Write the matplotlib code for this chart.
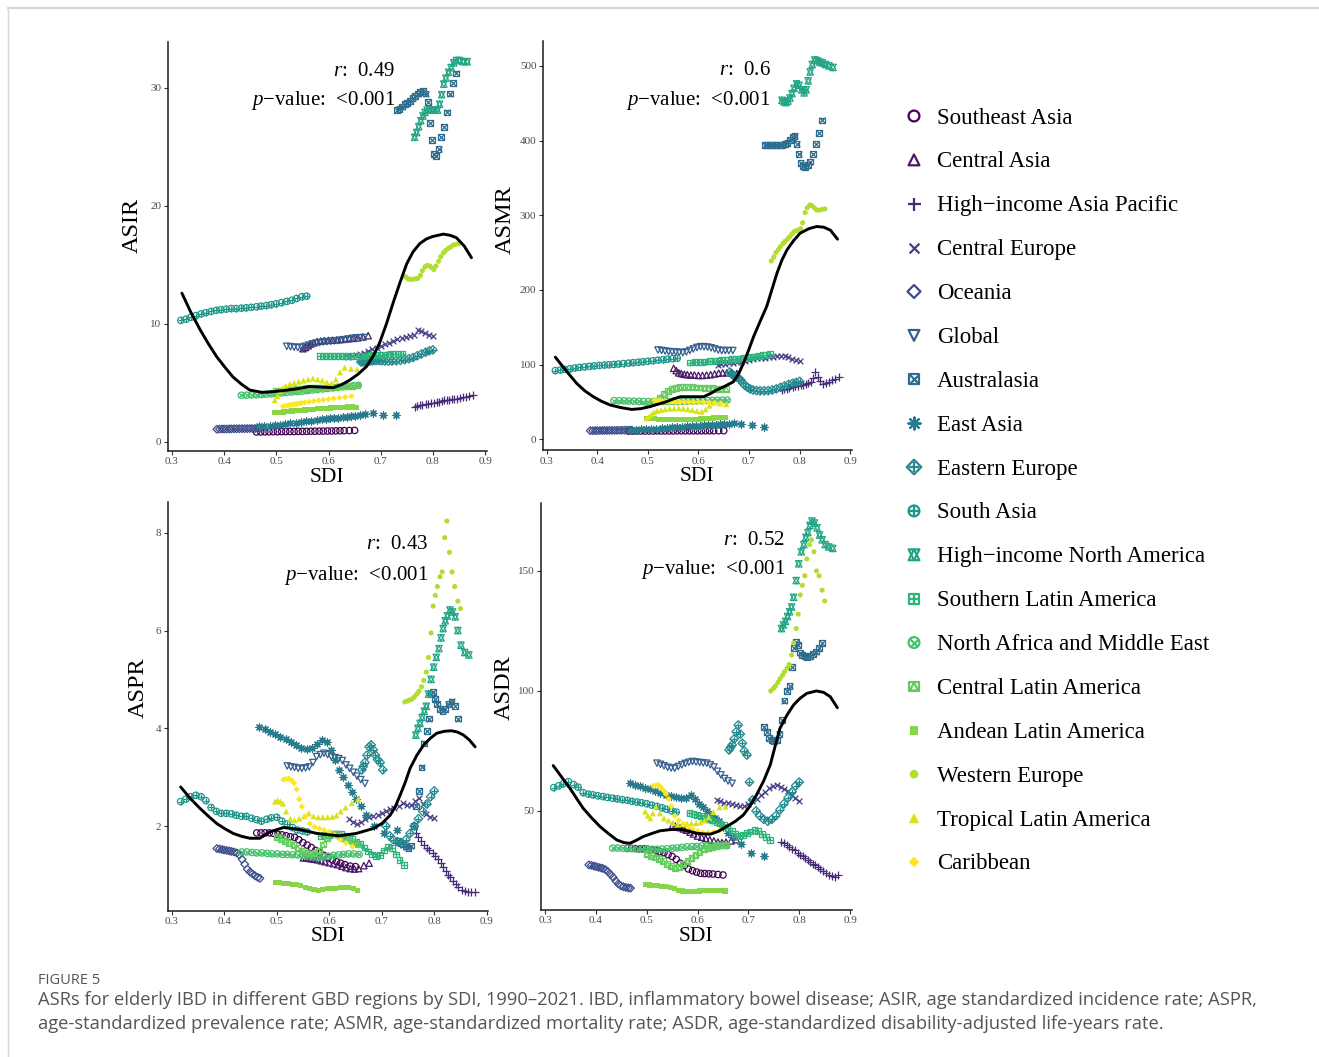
import numpy as np
import matplotlib
matplotlib.use("Agg")
import matplotlib.pyplot as plt

plt.rcParams['font.family'] = ['Liberation Serif', 'DejaVu Serif']
plt.rcParams['mathtext.fontset'] = 'custom'
plt.rcParams['mathtext.rm'] = 'Liberation Serif'
plt.rcParams['mathtext.it'] = 'Liberation Serif:italic'

# ---------------- data ----------------
regions = ["Southeast Asia", "Central Asia", "High\u2212income Asia Pacific", "Central Europe",
           "Oceania", "Global", "Australasia", "East Asia", "Eastern Europe", "South Asia",
           "High\u2212income North America", "Southern Latin America",
           "North Africa and Middle East", "Central Latin America", "Andean Latin America",
           "Western Europe", "Tropical Latin America", "Caribbean"]

SDI_SEA = [0.462, 0.47, 0.478, 0.486, 0.494, 0.502, 0.51, 0.518, 0.526, 0.534, 0.542, 0.55, 0.558, 0.566, 0.574, 0.582, 0.59, 0.598, 0.606, 0.614, 0.622, 0.63, 0.64, 0.65]
ASIR_SEA = [0.85, 0.85, 0.86, 0.86, 0.87, 0.87, 0.88, 0.88, 0.89, 0.89, 0.9, 0.9, 0.9, 0.91, 0.91, 0.92, 0.92, 0.93, 0.93, 0.94, 0.95, 0.96, 0.97, 0.98]
ASMR_SEA = [11.0, 11.0, 11.0, 11.1, 11.1, 11.1, 11.1, 11.2, 11.2, 11.2, 11.2, 11.2, 11.3, 11.3, 11.3, 11.3, 11.3, 11.3, 11.4, 11.4, 11.4, 11.4, 11.5, 11.5]
ASPR_SEA = [1.86, 1.86, 1.86, 1.86, 1.85, 1.83, 1.82, 1.80, 1.78, 1.77, 1.72, 1.66, 1.61, 1.56, 1.50, 1.45, 1.40, 1.36, 1.31, 1.27, 1.24, 1.21, 1.18, 1.17]
ASDR_SEA = [34.4, 34.4, 34.3, 34.2, 34.2, 34.0, 33.7, 33.4, 33.0, 32.6, 31.8, 31.0, 29.8, 28.2, 27.2, 25.8, 25.1, 24.5, 24.0, 23.9, 23.8, 23.7, 23.5, 23.3]

SDI_CA = [0.551, 0.556, 0.561, 0.566, 0.572, 0.578, 0.585, 0.592, 0.6, 0.608, 0.616, 0.624, 0.632, 0.64, 0.648, 0.656, 0.666, 0.676]
ASIR_CA = [7.9, 8.0, 8.15, 8.3, 8.4, 8.5, 8.55, 8.58, 8.6, 8.62, 8.65, 8.68, 8.72, 8.75, 8.78, 8.82, 8.9, 9.0]
ASMR_CA = [95, 92, 89, 88, 87, 86.5, 86, 86, 85.5, 85.5, 86, 86.5, 87.5, 88.5, 89, 89, 89, 88]
ASPR_CA = [1.35, 1.35, 1.34, 1.33, 1.32, 1.31, 1.29, 1.27, 1.25, 1.23, 1.21, 1.18, 1.15, 1.13, 1.12, 1.13, 1.19, 1.24]
ASDR_CA = [44, 43.7, 43.3, 43, 42.5, 42, 41.2, 40.4, 39.5, 39, 38.5, 38, 37.5, 37, 36.8, 37, 37.5, 38]

SDI_HIAP = [0.765, 0.77, 0.775, 0.78, 0.786, 0.791, 0.797, 0.802, 0.807, 0.812, 0.817, 0.822, 0.827, 0.831, 0.836, 0.841, 0.846, 0.852, 0.858, 0.864, 0.87, 0.877]
ASIR_HIAP = [3.0, 3.05, 3.1, 3.15, 3.2, 3.25, 3.3, 3.34, 3.38, 3.42, 3.47, 3.52, 3.56, 3.58, 3.62, 3.66, 3.68, 3.72, 3.78, 3.85, 3.92, 4.0]
ASMR_HIAP = [66, 67, 68, 69, 70, 71, 72, 72.5, 73, 74, 75.5, 77, 82, 90, 84, 78, 74, 75, 77, 79, 81, 84]
ASPR_HIAP = [1.85, 1.77, 1.7, 1.62, 1.56, 1.5, 1.44, 1.38, 1.32, 1.24, 1.16, 1.08, 1.0, 0.95, 0.88, 0.82, 0.76, 0.7, 0.67, 0.65, 0.65, 0.66]
ASDR_HIAP = [37.2, 36.5, 35.7, 34.8, 34, 33.5, 32.5, 31.7, 31, 30.3, 29.5, 28.8, 28, 27.4, 26.6, 25.8, 25, 24, 23.2, 22.7, 22.6, 23.1]

SDI_CE = [0.638, 0.645, 0.652, 0.66, 0.668, 0.676, 0.684, 0.692, 0.7, 0.708, 0.716, 0.724, 0.732, 0.74, 0.748, 0.756, 0.764, 0.771, 0.778, 0.785, 0.792, 0.8]
ASIR_CE = [7.2, 7.28, 7.36, 7.46, 7.56, 7.7, 7.85, 8.0, 8.15, 8.3, 8.42, 8.58, 8.68, 8.78, 8.85, 8.95, 9.1, 9.45, 9.4, 9.2, 9.08, 9.0]
ASMR_CE = [100, 100.5, 101, 101.5, 102, 103, 104, 105, 106.5, 107.5, 108.5, 109, 109.5, 110, 110.5, 111, 111.2, 111.6, 110, 108, 106, 105]
ASPR_CE = [2.14, 2.08, 2.05, 2.09, 2.14, 2.19, 2.2, 2.22, 2.26, 2.3, 2.34, 2.36, 2.42, 2.48, 2.44, 2.43, 2.52, 2.57, 2.46, 2.25, 2.19, 2.16]
ASDR_CE = [54.6, 54, 53.5, 53.2, 52.9, 52.5, 52.2, 52.1, 53, 54, 55, 56.5, 58, 59.4, 60.2, 60.8, 60, 59.2, 58.2, 56.7, 55.5, 54.2]

SDI_OC = [0.386, 0.391, 0.396, 0.4, 0.405, 0.41, 0.414, 0.419, 0.424, 0.429, 0.434, 0.439, 0.444, 0.449, 0.454, 0.459, 0.464, 0.468]
ASIR_OC = [1.08, 1.09, 1.1, 1.1, 1.1, 1.11, 1.11, 1.12, 1.12, 1.12, 1.13, 1.13, 1.13, 1.14, 1.14, 1.14, 1.15, 1.15]
ASMR_OC = [11.5, 11.5, 11.6, 11.6, 11.7, 11.7, 11.8, 11.8, 11.9, 11.9, 12.0, 12.0, 12.1, 12.1, 12.2, 12.2, 12.3, 12.3]
ASPR_OC = [1.54, 1.53, 1.52, 1.51, 1.5, 1.49, 1.48, 1.47, 1.45, 1.41, 1.32, 1.22, 1.12, 1.06, 1.02, 0.98, 0.95, 0.93]
ASDR_OC = [27.5, 27.3, 27, 26.8, 26.5, 26.2, 26, 25.5, 24.6, 23.5, 22.3, 20.8, 19.6, 18.8, 18.4, 18.1, 17.9, 17.8]

SDI_GL = [0.52, 0.527, 0.534, 0.541, 0.548, 0.555, 0.562, 0.569, 0.576, 0.583, 0.59, 0.597, 0.604, 0.611, 0.618, 0.625, 0.632, 0.639, 0.646, 0.653, 0.66, 0.668]
ASIR_GL = [8.1, 8.07, 8.03, 8.0, 8.02, 8.1, 8.2, 8.3, 8.37, 8.42, 8.47, 8.5, 8.53, 8.56, 8.58, 8.62, 8.66, 8.72, 8.78, 8.81, 8.83, 8.84]
ASMR_GL = [119.6, 119, 118.2, 117.5, 117.2, 117, 116.5, 116, 117, 119, 121, 123, 124, 124, 123.5, 122.5, 121, 119.5, 118.8, 118.8, 118.8, 118.8]
ASPR_GL = [3.23, 3.21, 3.2, 3.18, 3.18, 3.19, 3.21, 3.3, 3.42, 3.46, 3.49, 3.46, 3.42, 3.4, 3.38, 3.34, 3.25, 3.18, 3.1, 3.02, 2.95, 2.87]
ASDR_GL = [69.9, 69.4, 68.8, 68.2, 67.9, 67.8, 68.5, 69.2, 69.8, 70.3, 70.6, 70.4, 70.2, 70, 69.9, 69.2, 68.3, 66.5, 65, 63.5, 62.5, 61.5]

SDI_AU = [0.731, 0.736, 0.741, 0.746, 0.751, 0.756, 0.761, 0.766, 0.771, 0.776, 0.781, 0.786, 0.79, 0.794, 0.798, 0.802, 0.806, 0.811, 0.816, 0.821, 0.827, 0.833, 0.839, 0.845]
ASIR_AU = [28.1, 28.2, 28.4, 28.6, 28.7, 28.9, 29.1, 29.3, 29.5, 29.65, 29.7, 29.5, 28.8, 27.0, 25.6, 24.4, 24.2, 24.8, 25.8, 26.7, 27.9, 29.5, 30.4, 31.2]
ASMR_AU = [394, 394, 394, 394, 394, 394, 394, 394, 395, 397, 401, 405, 406, 395, 382, 370, 366, 365, 367, 372, 382, 395, 410, 427]
ASPR_AU = [1.7, 1.66, 1.62, 1.58, 1.55, 1.6, 2.0, 2.4, 2.72, 3.2, 3.69, 3.95, 4.2, 4.7, 4.75, 4.6, 4.5, 4.4, 4.35, 4.4, 4.5, 4.55, 4.45, 4.2]
ASDR_AU = [85, 83, 80.5, 79.5, 79, 79.5, 82, 88, 96, 100, 102, 110, 117.8, 120.6, 119, 116, 115, 114.5, 114.3, 114.5, 115.5, 116.4, 118, 119.9]

SDI_EA = [0.467, 0.477, 0.487, 0.497, 0.507, 0.517, 0.527, 0.537, 0.547, 0.557, 0.567, 0.577, 0.587, 0.595, 0.603, 0.611, 0.619, 0.627, 0.635, 0.643, 0.651, 0.66, 0.67, 0.685, 0.705, 0.73]
ASIR_EA = [1.33, 1.35, 1.38, 1.41, 1.46, 1.52, 1.57, 1.63, 1.7, 1.76, 1.81, 1.87, 1.93, 1.97, 2.0, 2.03, 2.07, 2.11, 2.15, 2.19, 2.22, 2.27, 2.4, 2.42, 2.3, 2.26]
ASMR_EA = [12.5, 12.8, 13.1, 13.5, 13.9, 14.3, 14.8, 15.4, 15.9, 16.4, 16.9, 17.3, 17.7, 18, 18.2, 18.6, 18.9, 19.2, 19.5, 19.8, 20.2, 20.8, 21.4, 21, 19.5, 17]
ASPR_EA = [4.02, 3.98, 3.93, 3.89, 3.83, 3.78, 3.72, 3.65, 3.6, 3.58, 3.6, 3.67, 3.76, 3.72, 3.55, 3.35, 3.15, 3.0, 2.85, 2.7, 2.56, 2.4, 2.22, 2.0, 1.85, 1.92]
ASDR_EA = [61.5, 60.8, 60.2, 59.7, 59, 58.3, 57.6, 56.8, 56.2, 55.6, 55.3, 55.5, 56.5, 55, 53, 51.8, 50, 48.5, 47.2, 46, 43.5, 41, 39, 36, 32.5, 31.4]

SDI_EE = [0.662, 0.665, 0.668, 0.672, 0.676, 0.68, 0.684, 0.688, 0.692, 0.697, 0.702, 0.708, 0.715, 0.722, 0.73, 0.738, 0.746, 0.754, 0.762, 0.77, 0.778, 0.786, 0.793, 0.8]
ASIR_EE = [6.78, 6.79, 6.8, 6.82, 6.84, 6.86, 6.88, 6.9, 6.91, 6.9, 6.88, 6.86, 6.85, 6.86, 6.88, 6.92, 6.98, 7.05, 7.15, 7.3, 7.45, 7.6, 7.72, 7.8]
ASMR_EE = [90, 88, 86, 84.5, 83, 81.5, 79, 75, 72, 69.5, 67.5, 66, 65.2, 65, 65, 65.2, 66, 67.5, 69.5, 71.5, 73.5, 75, 76.2, 77.5]
ASPR_EE = [3.15, 3.22, 3.3, 3.45, 3.62, 3.66, 3.56, 3.45, 3.36, 3.3, 3.15, 2.0, 1.8, 1.72, 1.68, 1.66, 1.72, 1.85, 2.0, 2.15, 2.3, 2.45, 2.6, 2.72]
ASDR_EE = [75.4, 76.5, 77.5, 80, 83, 85.8, 82, 78.2, 75, 73.3, 62, 54.6, 50, 48, 46.5, 45.7, 46.5, 48, 50.5, 53, 55.5, 58, 60.5, 62]

SDI_SA = [0.317, 0.327, 0.336, 0.346, 0.356, 0.365, 0.375, 0.385, 0.394, 0.404, 0.414, 0.423, 0.433, 0.442, 0.452, 0.462, 0.471, 0.481, 0.49, 0.5, 0.51, 0.52, 0.53, 0.539, 0.549, 0.558]
ASIR_SA = [10.3, 10.4, 10.55, 10.7, 10.85, 10.95, 11.05, 11.15, 11.2, 11.25, 11.3, 11.3, 11.33, 11.36, 11.4, 11.45, 11.5, 11.55, 11.62, 11.7, 11.8, 11.9, 12.0, 12.15, 12.3, 12.35]
ASMR_SA = [92, 92.8, 93.6, 94.5, 95.5, 96.3, 97, 97.7, 98.3, 98.9, 99.4, 99.8, 100.2, 100.8, 101.4, 102, 102.6, 103.2, 103.8, 104.5, 105.2, 106, 106.6, 107.3, 108, 108.5]
ASPR_SA = [2.5, 2.55, 2.6, 2.63, 2.6, 2.52, 2.38, 2.3, 2.26, 2.26, 2.25, 2.22, 2.2, 2.2, 2.16, 2.13, 2.1, 2.14, 2.17, 2.18, 2.1, 2.04, 1.97, 1.92, 1.9, 1.88]
ASDR_SA = [59.7, 60.5, 61.3, 62.2, 61, 59.9, 57.6, 57, 56.7, 56.3, 56, 55.6, 55.3, 55, 54.7, 54.4, 54, 53.7, 53.4, 53, 52.4, 51.9, 51.3, 50.7, 50, 49.5]

SDI_HINA = [0.765, 0.769, 0.773, 0.777, 0.781, 0.785, 0.789, 0.794, 0.799, 0.804, 0.809, 0.813, 0.817, 0.821, 0.825, 0.83, 0.835, 0.84, 0.845, 0.851, 0.858, 0.866]
ASIR_HINA = [25.8, 26.2, 26.7, 27.2, 27.6, 27.9, 28.1, 28.1, 28.1, 28.1, 28.1, 28.6, 29.4, 30.3, 30.8, 31.3, 31.7, 32.1, 32.3, 32.3, 32.2, 32.2]
ASMR_HINA = [454, 452, 451, 453, 457, 463, 470, 476, 474, 468, 464, 468, 480, 492, 502, 508, 507, 505, 504, 502, 500, 498]
ASPR_HINA = [3.86, 4.0, 4.1, 4.22, 4.35, 4.45, 4.7, 5.0, 5.25, 5.45, 5.63, 5.85, 6.04, 6.2, 6.3, 6.42, 6.38, 6.28, 6.0, 5.7, 5.55, 5.5]
ASDR_HINA = [126, 127.5, 129, 131, 133, 135, 139, 146, 153, 158, 161, 164, 166, 169, 170.8, 170, 168, 165, 163, 161, 160, 159.4]

SDI_SLA = [0.584, 0.592, 0.599, 0.607, 0.614, 0.622, 0.629, 0.637, 0.644, 0.652, 0.659, 0.667, 0.674, 0.682, 0.689, 0.697, 0.704, 0.712, 0.719, 0.727, 0.734, 0.742]
ASIR_SLA = [7.26, 7.26, 7.27, 7.27, 7.27, 7.28, 7.28, 7.28, 7.29, 7.29, 7.3, 7.31, 7.32, 7.34, 7.35, 7.37, 7.39, 7.41, 7.43, 7.45, 7.47, 7.49]
ASMR_SLA = [102.7, 103.1, 103.5, 103.8, 104.1, 104.5, 104.9, 105.4, 105.8, 106.2, 106.6, 107.1, 107.6, 108.2, 108.8, 109.5, 110.2, 111, 111.6, 112.4, 113.2, 114]
ASPR_SLA = [1.8, 1.81, 1.82, 1.84, 1.85, 1.83, 1.8, 1.77, 1.73, 1.68, 1.63, 1.56, 1.48, 1.42, 1.38, 1.4, 1.5, 1.58, 1.55, 1.42, 1.3, 1.2]
ASDR_SLA = [49, 48.8, 48.4, 47.8, 47.1, 46.5, 46, 45.4, 44.8, 44, 43, 41.8, 40.5, 39.5, 40, 40.8, 41.4, 42, 41.5, 40.5, 39.2, 38]

SDI_NAME = [0.433, 0.443, 0.453, 0.462, 0.472, 0.482, 0.491, 0.501, 0.511, 0.52, 0.53, 0.54, 0.55, 0.559, 0.569, 0.579, 0.589, 0.598, 0.608, 0.618, 0.627, 0.637, 0.647, 0.657]
ASIR_NAME = [3.95, 3.96, 3.98, 4.0, 4.02, 4.05, 4.08, 4.12, 4.16, 4.2, 4.23, 4.27, 4.3, 4.35, 4.4, 4.45, 4.49, 4.53, 4.58, 4.63, 4.68, 4.72, 4.76, 4.8]
ASMR_NAME = [51.8, 51.6, 51.4, 51.1, 50.9, 50.7, 50.5, 50.4, 50.4, 50.4, 50.5, 50.5, 50.6, 50.7, 50.9, 51, 51.2, 51.4, 51.6, 51.9, 52.1, 52.3, 52.4, 52.5]
ASPR_NAME = [1.47, 1.47, 1.46, 1.45, 1.45, 1.44, 1.43, 1.43, 1.42, 1.42, 1.41, 1.41, 1.4, 1.38, 1.37, 1.36, 1.37, 1.38, 1.4, 1.41, 1.42, 1.43, 1.43, 1.42]
ASDR_NAME = [34.5, 34.5, 34.4, 34.3, 34.3, 34.2, 34.1, 34, 34, 34, 34.1, 34.2, 34.4, 34.6, 34.8, 35, 35.1, 35.2, 35.4, 35.5, 35.5, 35.5, 35.5, 35.5]

SDI_CLA = [0.5, 0.508, 0.516, 0.524, 0.532, 0.54, 0.548, 0.556, 0.564, 0.572, 0.58, 0.588, 0.596, 0.604, 0.612, 0.62, 0.628, 0.636, 0.645, 0.655]
ASIR_CLA = [4.3, 4.33, 4.37, 4.4, 4.44, 4.47, 4.5, 4.54, 4.57, 4.6, 4.6, 4.61, 4.62, 4.64, 4.66, 4.69, 4.71, 4.73, 4.75, 4.78]
ASMR_CLA = [48, 49.5, 52, 56, 61, 65, 67.5, 69, 69.8, 70, 70, 69.8, 69.5, 69.2, 68.8, 68.5, 68.2, 67.8, 67.4, 67]
ASPR_CLA = [1.78, 1.74, 1.7, 1.66, 1.61, 1.55, 1.5, 1.46, 1.44, 1.45, 1.5, 1.62, 1.76, 1.85, 1.84, 1.8, 1.76, 1.72, 1.68, 1.62]
ASDR_CLA = [32, 31.3, 30.6, 29.8, 29, 28, 27, 26.2, 26.5, 27.8, 29, 30.3, 31.6, 33, 34, 34.6, 35, 35.3, 35.6, 36]

SDI_ALA = [0.497, 0.505, 0.513, 0.522, 0.53, 0.538, 0.546, 0.555, 0.563, 0.571, 0.579, 0.588, 0.596, 0.604, 0.612, 0.621, 0.629, 0.637, 0.646, 0.654]
ASIR_ALA = [2.46, 2.5, 2.54, 2.58, 2.62, 2.65, 2.68, 2.71, 2.74, 2.77, 2.8, 2.83, 2.86, 2.88, 2.91, 2.93, 2.95, 2.96, 2.96, 2.91]
ASMR_ALA = [28, 27.7, 27.3, 27, 26.7, 26.4, 26.1, 26, 26, 26.2, 26.4, 26.6, 26.9, 27.2, 27.6, 28, 28.5, 28.9, 29.2, 29.5]
ASPR_ALA = [0.84, 0.84, 0.83, 0.82, 0.81, 0.8, 0.78, 0.75, 0.72, 0.7, 0.69, 0.7, 0.72, 0.73, 0.73, 0.74, 0.75, 0.74, 0.72, 0.69]
ASDR_ALA = [19.2, 19.1, 18.9, 18.8, 18.6, 18.4, 18.1, 17.5, 17, 16.6, 16.4, 16.4, 16.5, 16.6, 16.7, 16.7, 16.8, 16.8, 16.7, 16.6]

SDI_WE = [0.744, 0.749, 0.753, 0.758, 0.762, 0.767, 0.771, 0.776, 0.78, 0.785, 0.789, 0.794, 0.798, 0.802, 0.806, 0.811, 0.815, 0.82, 0.824, 0.829, 0.834, 0.839, 0.845, 0.85]
ASIR_WE = [14.04, 13.95, 13.8, 13.76, 13.78, 13.82, 13.84, 14.1, 14.5, 14.83, 14.95, 14.9, 14.75, 14.6, 14.9, 15.3, 15.68, 16.0, 16.2, 16.38, 16.5, 16.67, 16.75, 16.8]
ASMR_WE = [238.8, 244, 250, 254, 258, 262, 265, 268, 271, 275, 278, 279.5, 280, 282, 290, 303.6, 310, 313.8, 313, 310, 307, 307, 308, 308.5]
ASPR_WE = [4.54, 4.56, 4.58, 4.6, 4.64, 4.7, 4.76, 4.85, 4.98, 5.15, 5.45, 5.95, 6.5, 6.72, 6.9, 7.1, 7.2, 7.9, 8.24, 7.6, 7.2, 6.9, 6.6, 6.45]
ASDR_WE = [100, 101, 102, 103.5, 105, 106.5, 108, 109.5, 111, 115, 120, 126, 132, 140, 144, 148, 155, 161, 163, 158, 150, 148, 142, 137.5]

SDI_TLA = [0.497, 0.502, 0.507, 0.512, 0.518, 0.526, 0.534, 0.543, 0.552, 0.561, 0.57, 0.579, 0.588, 0.597, 0.606, 0.614, 0.622, 0.631, 0.643, 0.655]
ASIR_TLA = [3.53, 3.9, 4.3, 4.55, 4.75, 4.9, 5.0, 5.1, 5.2, 5.3, 5.37, 5.3, 5.2, 5.05, 4.95, 5.3, 5.9, 6.3, 6.2, 6.15]
ASMR_TLA = [28, 30, 33, 36, 38, 39.5, 40.3, 41, 41.3, 41.5, 41.2, 40.3, 39.3, 38, 37, 40, 45, 49, 48, 47]
ASPR_TLA = [2.5, 2.53, 2.5, 2.46, 2.3, 2.15, 2.12, 2.15, 2.2, 2.26, 2.2, 2.18, 2.18, 2.18, 2.19, 2.22, 2.3, 2.38, 2.47, 2.55]
ASDR_TLA = [49.7, 48, 46.9, 49, 51.8, 49, 46.9, 46, 45, 44.2, 44.5, 44.7, 44.9, 44.9, 45.2, 46, 47.5, 49.5, 51.5, 51.8]

SDI_CAR = [0.513, 0.518, 0.523, 0.528, 0.533, 0.538, 0.543, 0.548, 0.555, 0.563, 0.572, 0.581, 0.59, 0.6, 0.61, 0.621, 0.632, 0.644]
ASIR_CAR = [3.02, 3.06, 3.1, 3.14, 3.18, 3.22, 3.26, 3.3, 3.35, 3.4, 3.46, 3.52, 3.56, 3.62, 3.68, 3.74, 3.8, 3.87]
ASMR_CAR = [52, 51.7, 51.4, 51.1, 50.9, 50.7, 50.5, 50.3, 50.1, 50, 50, 50, 50, 49.9, 49.7, 49.3, 48.7, 48]
ASPR_CAR = [2.95, 2.96, 2.97, 2.94, 2.88, 2.75, 2.55, 2.4, 2.2, 2.05, 1.98, 1.95, 1.92, 1.88, 1.82, 1.72, 1.65, 1.58]
ASDR_CAR = [60.4, 60.6, 60.8, 59.8, 58.5, 57, 55, 52, 48, 46, 44.5, 43.2, 42.3, 41.5, 41, 40.8, 41.2, 42]

# LOESS curves
FIT_SDI_ASIR = [0.319, 0.336, 0.354, 0.37, 0.386, 0.402, 0.417, 0.433, 0.449, 0.472, 0.49, 0.513, 0.54, 0.564, 0.585, 0.609, 0.625, 0.641, 0.657, 0.673, 0.686, 0.698, 0.711, 0.724, 0.737, 0.75, 0.762, 0.775, 0.788, 0.80, 0.82, 0.833, 0.845, 0.86, 0.874]
FIT_ASIR = [12.6, 11.0, 9.5, 8.3, 7.2, 6.3, 5.5, 4.9, 4.4, 4.2, 4.25, 4.35, 4.5, 4.7, 4.65, 4.6, 4.85, 5.25, 5.75, 6.4, 7.3, 8.4, 10.0, 11.8, 13.5, 15.1, 16.1, 16.8, 17.2, 17.4, 17.6, 17.5, 17.3, 16.6, 15.6]
FIT_SDI_ASMR = [0.317, 0.338, 0.359, 0.375, 0.392, 0.408, 0.425, 0.446, 0.468, 0.486, 0.504, 0.52, 0.537, 0.55, 0.564, 0.587, 0.61, 0.623, 0.636, 0.652, 0.669, 0.679, 0.689, 0.699, 0.709, 0.722, 0.735, 0.745, 0.755, 0.765, 0.775, 0.788, 0.801, 0.818, 0.834, 0.848, 0.861, 0.875]
FIT_ASMR = [110, 92, 75, 65, 57, 51, 46, 42.5, 40, 41, 43.7, 47, 50.4, 54, 57, 57, 57, 61, 66, 71, 77, 87, 102, 119, 137.5, 158, 178, 200, 222, 240, 253.6, 266, 276, 282, 285, 284, 280, 268]
FIT_SDI_ASPR = [0.317, 0.335, 0.354, 0.37, 0.386, 0.402, 0.417, 0.433, 0.449, 0.468, 0.487, 0.513, 0.544, 0.576, 0.6, 0.62, 0.652, 0.684, 0.7, 0.716, 0.726, 0.735, 0.745, 0.754, 0.767, 0.78, 0.793, 0.805, 0.82, 0.833, 0.845, 0.856, 0.867, 0.878]
FIT_ASPR = [2.80, 2.57, 2.36, 2.2, 2.05, 1.94, 1.85, 1.79, 1.75, 1.75, 1.88, 1.97, 1.93, 1.85, 1.82, 1.80, 1.85, 1.95, 2.05, 2.22, 2.4, 2.63, 2.9, 3.18, 3.45, 3.66, 3.8, 3.9, 3.94, 3.95, 3.92, 3.86, 3.76, 3.62]
FIT_SDI_ASDR = [0.316, 0.333, 0.349, 0.362, 0.375, 0.392, 0.408, 0.425, 0.441, 0.455, 0.467, 0.48, 0.493, 0.51, 0.526, 0.546, 0.566, 0.582, 0.598, 0.612, 0.625, 0.641, 0.657, 0.674, 0.69, 0.703, 0.716, 0.73, 0.743, 0.752, 0.762, 0.776, 0.789, 0.802, 0.815, 0.834, 0.848, 0.861, 0.875]
FIT_ASDR = [68.9, 64.0, 59.4, 55.2, 51.1, 47.0, 43.5, 40.5, 37.9, 36.8, 36.5, 37.8, 39.3, 40.6, 41.7, 42.2, 42.4, 41.6, 40.7, 40.4, 40.3, 41.5, 43.5, 45.6, 48.3, 52.0, 56.7, 62.5, 69.2, 76.5, 84.4, 90.0, 94.2, 97.0, 99.0, 100.0, 99.4, 97.6, 93.0]

R_VALUES = ["0.49", "0.6", "0.43", "0.52"]
P_VALUES = ["<0.001", "<0.001", "<0.001", "<0.001"]
METRICS = ["ASIR", "ASMR", "ASPR", "ASDR"]

sdi_all = [SDI_SEA, SDI_CA, SDI_HIAP, SDI_CE, SDI_OC, SDI_GL, SDI_AU, SDI_EA, SDI_EE, SDI_SA,
           SDI_HINA, SDI_SLA, SDI_NAME, SDI_CLA, SDI_ALA, SDI_WE, SDI_TLA, SDI_CAR]
vals = {
    "ASIR": [ASIR_SEA, ASIR_CA, ASIR_HIAP, ASIR_CE, ASIR_OC, ASIR_GL, ASIR_AU, ASIR_EA, ASIR_EE, ASIR_SA,
             ASIR_HINA, ASIR_SLA, ASIR_NAME, ASIR_CLA, ASIR_ALA, ASIR_WE, ASIR_TLA, ASIR_CAR],
    "ASMR": [ASMR_SEA, ASMR_CA, ASMR_HIAP, ASMR_CE, ASMR_OC, ASMR_GL, ASMR_AU, ASMR_EA, ASMR_EE, ASMR_SA,
             ASMR_HINA, ASMR_SLA, ASMR_NAME, ASMR_CLA, ASMR_ALA, ASMR_WE, ASMR_TLA, ASMR_CAR],
    "ASPR": [ASPR_SEA, ASPR_CA, ASPR_HIAP, ASPR_CE, ASPR_OC, ASPR_GL, ASPR_AU, ASPR_EA, ASPR_EE, ASPR_SA,
             ASPR_HINA, ASPR_SLA, ASPR_NAME, ASPR_CLA, ASPR_ALA, ASPR_WE, ASPR_TLA, ASPR_CAR],
    "ASDR": [ASDR_SEA, ASDR_CA, ASDR_HIAP, ASDR_CE, ASDR_OC, ASDR_GL, ASDR_AU, ASDR_EA, ASDR_EE, ASDR_SA,
             ASDR_HINA, ASDR_SLA, ASDR_NAME, ASDR_CLA, ASDR_ALA, ASDR_WE, ASDR_TLA, ASDR_CAR],
}
fits = {"ASIR": (FIT_SDI_ASIR, FIT_ASIR), "ASMR": (FIT_SDI_ASMR, FIT_ASMR),
        "ASPR": (FIT_SDI_ASPR, FIT_ASPR), "ASDR": (FIT_SDI_ASDR, FIT_ASDR)}

# ---------------- styling ----------------
W, H = 1319, 1057
colors = [matplotlib.colormaps['viridis'](v) for v in np.linspace(0, 1, 18)]

# ggplot shapes 1..18 as layered matplotlib markers: (marker, filled, size factor)
shapes = [
    [('o', False, 1.0)],
    [('^', False, 1.0)],
    [('+', True, 1.2)],
    [('x', True, 0.9)],
    [('D', False, 0.85)],
    [('v', False, 1.0)],
    [('s', False, 0.9), ('x', True, 0.9)],
    [((8, 2, 0), True, 1.1)],
    [('D', False, 0.95), ('+', True, 0.95)],
    [('o', False, 1.0), ('+', True, 0.9)],
    [('^', False, 1.0), ('v', False, 1.0)],
    [('s', False, 0.9), ('+', True, 0.9)],
    [('o', False, 1.0), ('x', True, 0.7)],
    [('s', False, 0.9), ('^', False, 0.75)],
    [('s', True, 0.8)],
    [('o', True, 0.8)],
    [('^', True, 0.95)],
    [('D', True, 0.7)],
]

def draw_points(ax, x, y, k, ms, lw):
    c = colors[k]
    for mk, filled, f in shapes[k]:
        s = (ms * f) ** 2
        if filled:
            if mk in ('+', 'x') or isinstance(mk, tuple):
                ax.scatter(x, y, marker=mk, s=s, color=c, linewidths=lw, zorder=2)
            else:
                ax.scatter(x, y, marker=mk, s=s, color=c, edgecolors='none', zorder=2)
        else:
            ax.scatter(x, y, marker=mk, s=s, facecolors='none', edgecolors=c, linewidths=lw, zorder=2)

fig = plt.figure(figsize=(W / 100, H / 100), dpi=100)

def px_axes(left, top, right, bottom):
    return fig.add_axes([left / W, 1 - bottom / H, (right - left) / W, (bottom - top) / H])

axes_px = {
    "ASIR": (167.8, 41.6, 486.6, 451.2),
    "ASMR": (542.7, 41.4, 851.7, 450.4),
    "ASPR": (167.5, 502.0, 488.3, 910.6),
    "ASDR": (541.0, 502.6, 851.6, 910.0),
}
ylims = {"ASIR": (-0.78, 33.9), "ASMR": (-14.9, 532.9), "ASPR": (0.27, 8.63), "ASDR": (8.7, 178.5)}
yticks = {"ASIR": [0, 10, 20, 30], "ASMR": [0, 100, 200, 300, 400, 500], "ASPR": [2, 4, 6, 8],
          "ASDR": [50, 100, 150]}
txt_pos = {"ASIR": (0.713, 0.928, 0.855), "ASMR": (0.738, 0.928, 0.855),
           "ASPR": (0.812, 0.895, 0.821), "ASDR": (0.786, 0.908, 0.835)}
ylab_pos = {"ASIR": (-0.078, 0.55), "ASMR": (-0.086, 0.565), "ASPR": (-0.058, 0.545), "ASDR": (-0.084, 0.545)}

for i, m in enumerate(METRICS):
    ax = px_axes(*axes_px[m])
    for k in range(18):
        draw_points(ax, sdi_all[k], vals[m][k], k, 4.6, 0.9)
    fx, fy = fits[m]
    ax.plot(fx, fy, color='black', lw=2.1, zorder=3, solid_capstyle='round')
    ax.set_xlim(0.292, 0.903)
    ax.set_ylim(*ylims[m])
    ax.set_xticks([0.3, 0.4, 0.5, 0.6, 0.7, 0.8, 0.9])
    ax.set_xticklabels(["0.3", "0.4", "0.5", "0.6", "0.7", "0.8", "0.9"])
    ax.set_yticks(yticks[m])
    ax.set_yticklabels([str(t) for t in yticks[m]])
    for s in ['top', 'right']:
        ax.spines[s].set_visible(False)
    for s in ['left', 'bottom']:
        ax.spines[s].set_linewidth(1.1)
        ax.spines[s].set_color('#1a1a1a')
    ax.tick_params(axis='both', direction='out', length=3, width=0.8, color='#333333',
                   labelsize=8, labelcolor='#4D4D4D', pad=1.5)
    ax.set_xlabel("SDI", fontsize=15.5, labelpad=1)
    ax.set_ylabel(m, fontsize=17.5)
    ax.yaxis.set_label_coords(*ylab_pos[m])
    tx, ty1, ty2 = txt_pos[m]
    ax.text(tx, ty1, r"$r$:  " + R_VALUES[i], transform=ax.transAxes, ha='right', va='center', fontsize=15)
    ax.text(tx, ty2, r"$p$" + "\u2212value:  " + P_VALUES[i], transform=ax.transAxes, ha='right',
            va='center', fontsize=15)
    ax.set_facecolor('none')

# legend (manual overlay)
lax = fig.add_axes([0, 0, 1, 1])
lax.set_xlim(0, W)
lax.set_ylim(H, 0)
lax.axis('off')
lax.set_zorder(-1)
for k, name in enumerate(regions):
    y = 116 + k * 43.88
    draw_points(lax, [914], [y], k, 7.8, 1.6)
    lax.text(937, y + 2, name, fontsize=16.5, va='center', ha='left')

# page frame
lax.plot([8, W], [8, 8], color='#d6d6d6', lw=1.5)
lax.plot([8, 8], [8, H], color='#d6d6d6', lw=1.0)

# caption
cap_font = ['Open Sans', 'DejaVu Sans']
lax.text(38, 980, "FIGURE 5", fontsize=10.5, color='#555555', family=cap_font, va='center')
lax.text(38, 1000, "ASRs for elderly IBD in different GBD regions by SDI, 1990\u20132021. IBD, inflammatory bowel disease; "
         "ASIR, age standardized incidence rate; ASPR,", fontsize=13.2, color='#555555', family=cap_font, va='center')
lax.text(38, 1024, "age-standardized prevalence rate; ASMR, age-standardized mortality rate; ASDR, age-standardized "
         "disability-adjusted life-years rate.", fontsize=13.2, color='#555555', family=cap_font, va='center')

fig.savefig("out.png", dpi=100, facecolor='white')
